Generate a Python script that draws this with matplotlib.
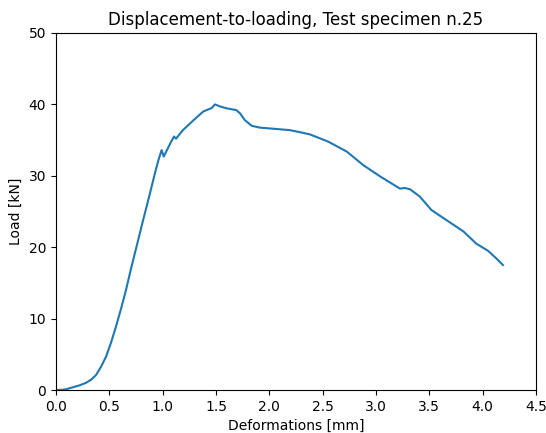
import matplotlib
matplotlib.use("Agg")
import matplotlib.pyplot as plt

deformation = [0.0, 0.08, 0.156, 0.22, 0.28, 0.33, 0.375, 0.42, 0.47, 0.515, 0.5625, 0.61, 0.656,
               0.70, 0.75, 0.81, 0.875, 0.928, 0.96, 0.99, 1.01, 1.04, 1.07, 1.106, 1.125,
               1.19, 1.24, 1.29, 1.38, 1.46, 1.49, 1.54, 1.6, 1.69, 1.725, 1.77, 1.835,
               1.91, 2.07, 2.19, 2.29, 2.38, 2.55, 2.725, 2.88, 3.04, 3.225, 3.27, 3.32,
               3.41, 3.52, 3.66, 3.82, 3.94, 4.05, 4.13, 4.19]
load = [0.0, 0.05, 0.37, 0.65, 1.0, 1.45, 2.1, 3.2, 4.7, 6.6, 8.9, 11.4, 14.0,
        16.8, 19.8, 23.4, 27.2, 30.4, 32.2, 33.6, 32.7, 33.6, 34.5, 35.5, 35.2,
        36.4, 37.1, 37.8, 39.0, 39.5, 40.0, 39.7, 39.45, 39.2, 38.75, 37.8, 37.0,
        36.75, 36.55, 36.4, 36.1, 35.8, 34.8, 33.4, 31.5, 29.9, 28.2, 28.3, 28.1,
        27.1, 25.2, 23.8, 22.2, 20.5, 19.5, 18.4, 17.5]

fig = plt.figure(figsize=(5.46, 4.33), dpi=100)
ax = fig.add_axes([0.1026, 0.0993, 0.8791, 0.8245])
ax.plot(deformation, load, color="#1f77b4", linewidth=1.5)
ax.set_xlim(0, 4.5)
ax.set_ylim(0, 50)
ax.set_xticks([0, 0.5, 1, 1.5, 2, 2.5, 3, 3.5, 4, 4.5])
ax.set_yticks([0, 10, 20, 30, 40, 50])
ax.set_xlabel("Deformations [mm]")
ax.set_ylabel("Load [kN]")
ax.set_title("Displacement-to-loading, Test specimen n.25")
fig.savefig("out.png", dpi=100)
